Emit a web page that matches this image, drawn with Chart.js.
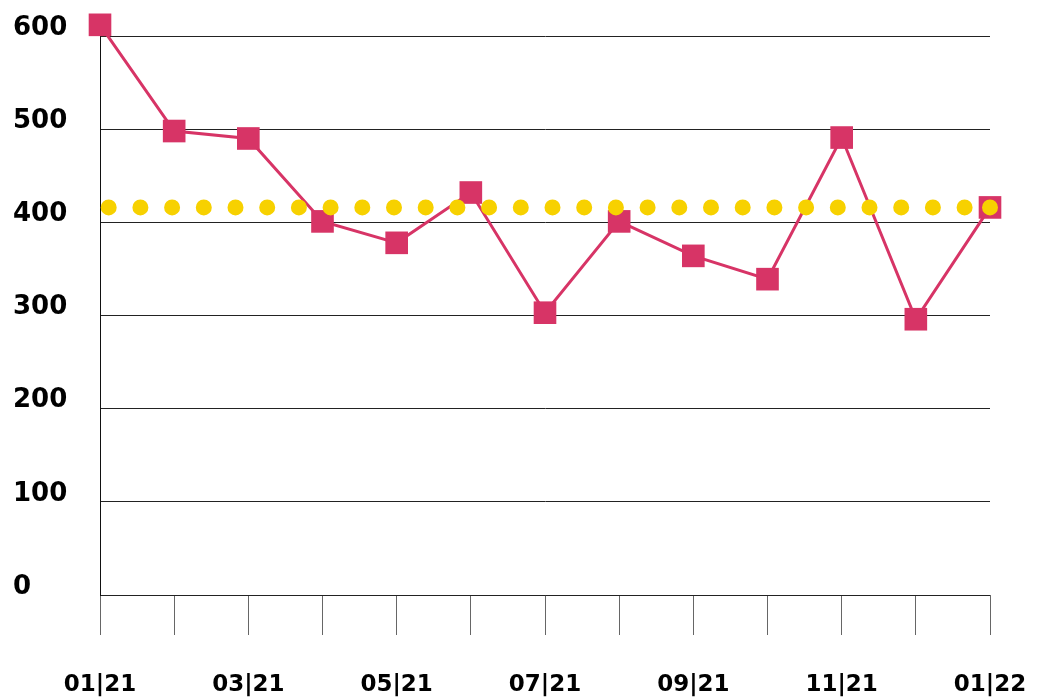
<!DOCTYPE html>
<html>
<head>
<meta charset="utf-8">
<script src="https://cdn.jsdelivr.net/npm/chart.js@4"></script>
<style>
  body { margin: 0; background: #fff; }
  #wrap { width: 1050px; height: 700px; }
</style>
</head>
<body>
<div id="wrap"><canvas id="chart" width="1050" height="700"></canvas></div>
<script>
// data
const months = ['01|21', '02|21', '03|21', '04|21', '05|21', '06|21', '07|21',
  '08|21', '09|21', '10|21', '11|21', '12|21', '01|22'];
const monthly = [612, 498, 490, 401, 378, 432, 303, 401, 364, 339, 491, 296, 416];
const average = [416, 416, 416, 416, 416, 416, 416, 416, 416, 416, 416, 416, 416];
const yTicks = [0, 100, 200, 300, 400, 500, 600];

const PINK = '#d73466';
const YELLOW = '#f7d100';

new Chart(document.getElementById('chart'), {
  type: 'line',
  data: {
    labels: months,
    datasets: [
      {
        // average, drawn on top
        data: average,
        borderColor: YELLOW,
        backgroundColor: YELLOW,
        borderWidth: 16,
        borderDash: [0, 31.7],
        borderDashOffset: 23,
        borderCapStyle: 'round',
        pointRadius: average.map((v, i) => i === average.length - 1 ? 8 : 0),
        pointBorderWidth: 0,
        clip: false
      },
      {
        data: monthly,
        borderColor: PINK,
        backgroundColor: PINK,
        borderWidth: 3,
        pointStyle: 'rect',
        pointRadius: 16,
        pointBorderWidth: 0,
        clip: false
      }
    ]
  },
  options: {
    responsive: false,
    animation: false,
    layout: { padding: { top: 36, right: 60, left: 13, bottom: 0 } },
    plugins: { legend: { display: false }, tooltip: { enabled: false } },
    scales: {
      x: {
        offset: false,
        border: { display: false },
        grid: { drawOnChartArea: false, drawTicks: true, tickLength: 40, color: '#666' },
        ticks: {
          autoSkip: false,
          maxRotation: 0,
          color: '#000',
          font: { family: 'DejaVu Sans', weight: 'bold', size: 23 },
          padding: 36,
          callback: (v, i) => i % 2 === 0 ? months[i] : ''
        },
        afterFit: a => {
          a.height = 105;
          // labels may overflow the edges, keep the plot box fixed
          a.paddingLeft = 0;
          a.paddingRight = 0;
        }
      },
      y: {
        min: 0,
        max: 600,
        border: { display: true, color: '#111' },
        grid: { drawTicks: false, color: '#222' },
        afterBuildTicks: a => { a.ticks = yTicks.map(v => ({ value: v })); },
        ticks: {
          color: '#000',
          font: { family: 'DejaVu Sans', weight: 'bold', size: 26 },
          crossAlign: 'far',
          padding: 0,
          labelOffset: -8
        },
        afterFit: a => { a.width = 87; }
      }
    }
  }
});
</script>
</body>
</html>
